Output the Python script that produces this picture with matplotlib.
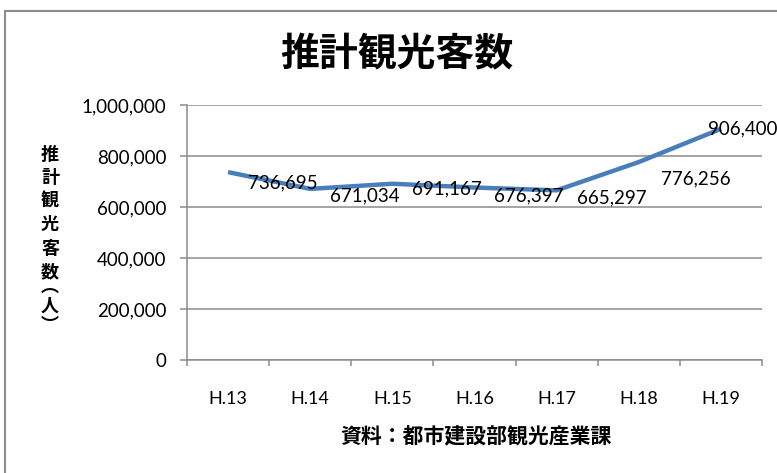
import matplotlib
matplotlib.use("Agg")
import matplotlib.pyplot as plt
from matplotlib.patches import Rectangle
from matplotlib.ticker import FuncFormatter, FixedLocator

# data
years = ["H.13", "H.14", "H.15", "H.16", "H.17", "H.18", "H.19"]
visitors = [736695, 671034, 691167, 676397, 665297, 776256, 906400]

# label offsets in pixels (Excel placed them by hand)
label_offsets = [(55, -11), (55, -7), (55, -5), (54, -8), (55, -8), (57, -17), (22, 0)]

jp = "Noto Sans CJK JP"
num_font = "Lato"
line_color = "#4A7EBB"
grid_color = "#8C8C8C"

fig = plt.figure(figsize=(7.77, 4.73), dpi=100)
ax = fig.add_axes([187 / 777, 1 - 360 / 473, 575 / 777, 255 / 473])

x = list(range(len(years)))
ax.plot(x, visitors, color=line_color, linewidth=3.2, solid_capstyle="butt", zorder=3)

for xi, v, off in zip(x, visitors, label_offsets):
    ax.annotate(f"{v:,}", (xi, v), xytext=off, textcoords="offset pixels",
                ha="center", va="center", fontsize=13.5, family=num_font,
                color="black", annotation_clip=False, zorder=4)

ax.set_xlim(-0.5, len(years) - 0.5)
ax.set_ylim(0, 1000000)
ax.set_yticks(range(0, 1000001, 200000))
ax.yaxis.set_major_formatter(FuncFormatter(lambda v, p: f"{int(v):,}"))
ax.grid(axis="y", color=grid_color, linewidth=1.1)
ax.set_axisbelow(True)

# category labels in the middle, tick marks on the boundaries
ax.set_xticks(x)
ax.set_xticklabels(years)
ax.xaxis.set_minor_locator(FixedLocator([i - 0.5 for i in range(len(years) + 1)]))
ax.tick_params(axis="x", which="major", length=0, pad=22, labelsize=13)
ax.tick_params(axis="x", which="minor", length=4, width=1.1, color=grid_color)
ax.tick_params(axis="y", length=5, width=1.1, color=grid_color, pad=10, labelsize=13.5)
for lab in ax.get_xticklabels() + ax.get_yticklabels():
    lab.set_family(num_font)

for s in ["top", "right"]:
    ax.spines[s].set_visible(False)
for s in ["left", "bottom"]:
    ax.spines[s].set_color(grid_color)
    ax.spines[s].set_linewidth(1.1)

fig.text(397 / 777, 1 - 55 / 473, "推計観光客数", ha="center", va="center",
         fontsize=28, fontweight="bold", family=jp)
# vertical axis title: characters stacked, the bracketed unit set tighter
fig.text(50 / 777, 1 - 213 / 473, "推\n計\n観\n光\n客\n数", ha="center", va="center",
         fontsize=13, fontweight="bold", family=jp, linespacing=1.3)
fig.text(50 / 777, 1 - 306 / 473, "︵\n人\n︶", ha="center", va="center",
         fontsize=13, fontweight="bold", family=jp, linespacing=1.05)
fig.text(476 / 777, 1 - 437 / 473, "資料：都市建設部観光産業課", ha="center", va="center",
         fontsize=15, fontweight="bold", family=jp)

# outer chart frame (cut off on the right and bottom)
fig.patches.append(Rectangle((5 / 777, -0.1), 1.2, 1.1 - 11 / 473, transform=fig.transFigure,
                             fill=False, edgecolor="#8C8C8C", linewidth=1.5))

fig.savefig("out.png", dpi=100)
